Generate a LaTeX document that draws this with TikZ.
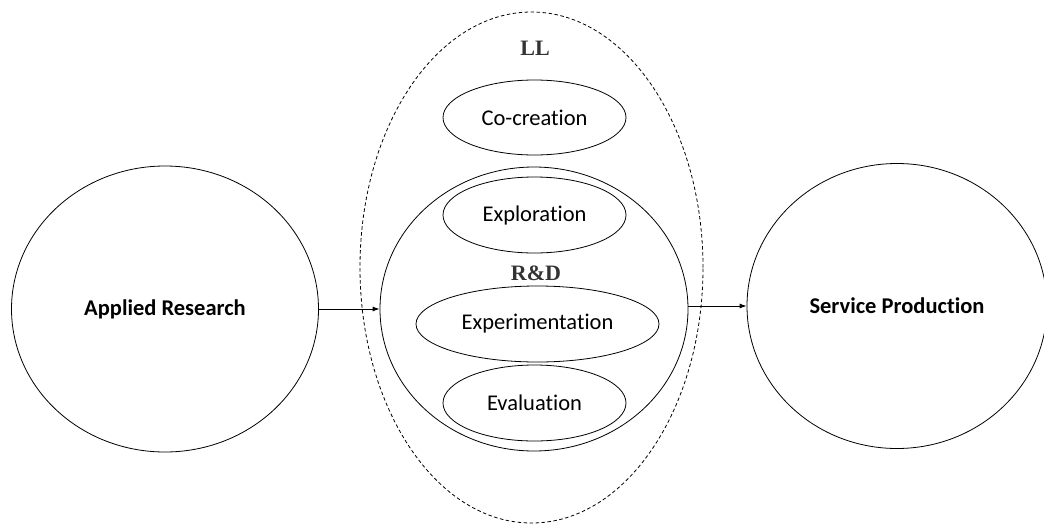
\documentclass[tikz,border=0pt]{standalone}
\usepackage{fontspec}
\newfontfamily\calib[Ligatures=NoCommon]{Carlito}
\newfontfamily\tms{Liberation Serif}
\usetikzlibrary{shapes.geometric,arrows.meta}
\tikzset{
  oval/.style={ellipse, draw, line width=0.8pt, inner sep=0pt},
  lab/.style={font=\calib\fontsize{22.5}{26}\selectfont},
  blab/.style={font=\calib\bfseries\fontsize{22.5}{26}\selectfont},
  slab/.style={font=\tms\bfseries\fontsize{22}{26}\selectfont, text=black!80},
  conn/.style={line width=0.8pt, -{Latex[length=7pt,width=5pt]}}
}
\begin{document}
\begin{tikzpicture}[x=1pt,y=-1pt]
\useasboundingbox (0,0) rectangle (1044,525);
\node[oval, dashed, dash pattern=on 3.5pt off 2.5pt, minimum width=343pt, minimum height=511pt] (ll) at (531.5,267.5) {};
\node[slab] (lltxt) at (535,48) {LL};
\node[oval, minimum width=308pt, minimum height=284pt] (rd) at (534,309) {};
\node[slab] (rdtxt) at (536,273) {R\&D};
\node[oval, lab, minimum width=183pt, minimum height=75pt] (co) at (534.5,117.5) {Co-creation};
\node[oval, lab, minimum width=183pt, minimum height=76pt] (ex) at (534.5,215) {Exploration};
\node[oval, lab, minimum width=243pt, minimum height=76pt] (exp) at (537.5,324) {Experimentation};
\node[oval, lab, minimum width=183pt, minimum height=76pt] (ev) at (534.5,403) {Evaluation};
\node[oval, blab, minimum width=307pt, minimum height=286pt] (ar) at (165,309) {Applied Research};
\node[oval, blab, minimum width=300pt, minimum height=285pt] (sp) at (897,306) {Service Production};
\draw[conn] (ar.east) -- (rd.west);
\draw[conn] (rd.east |- sp.west) -- (sp.west);
\end{tikzpicture}
\end{document}
